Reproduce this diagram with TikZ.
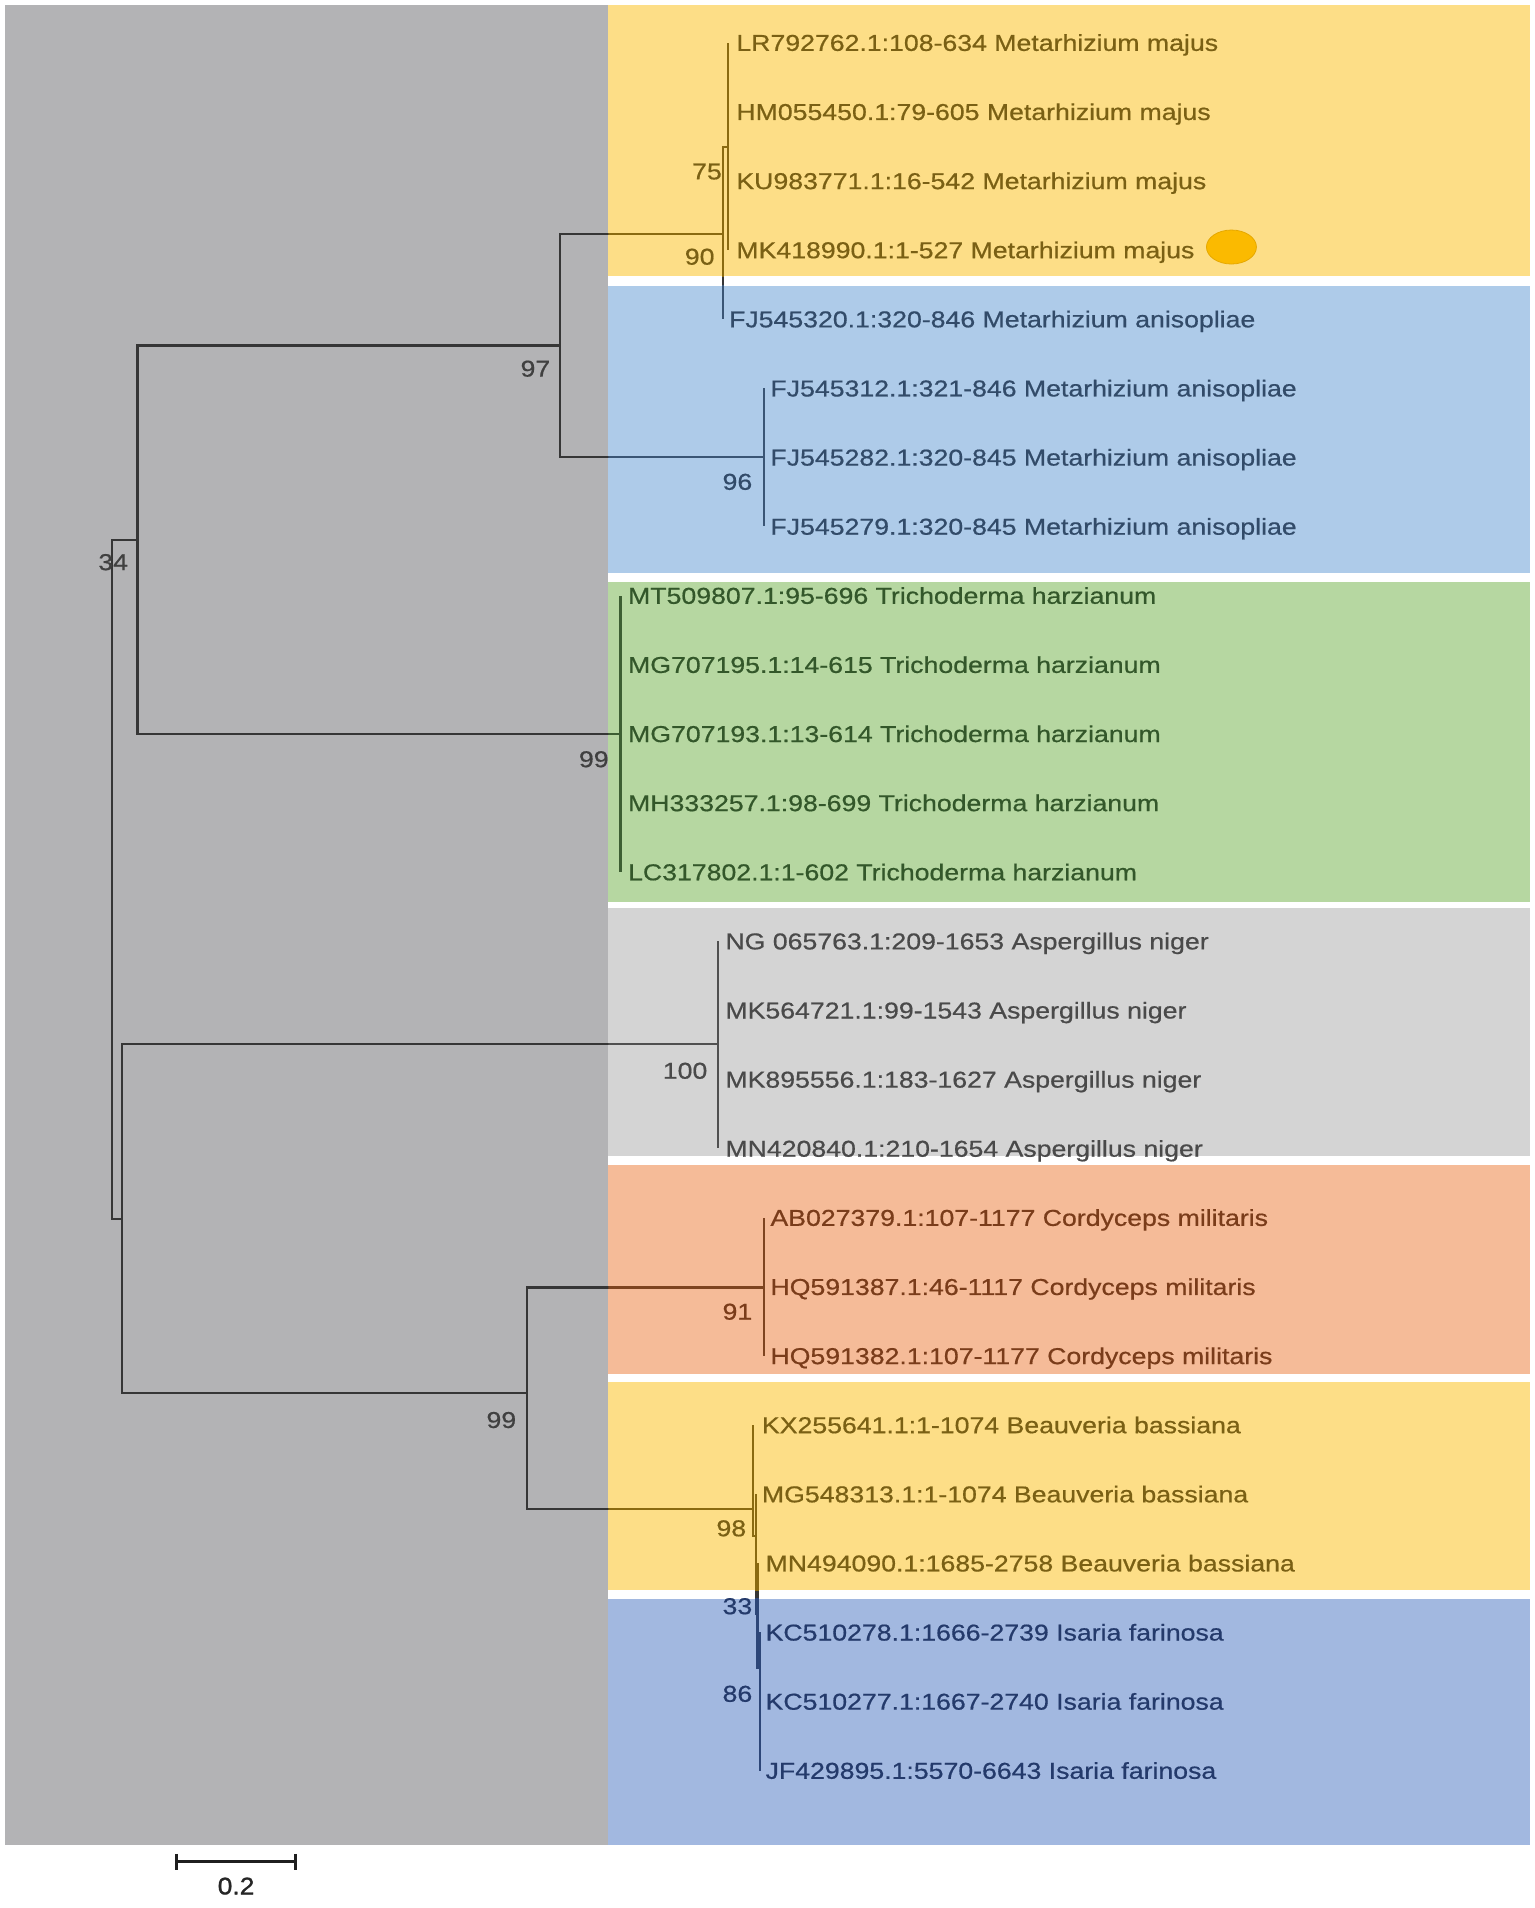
\documentclass[tikz,border=0pt]{standalone}
\usepackage{fontspec}
\usetikzlibrary{shapes.geometric}
\newfontfamily\labfont[FakeStretch=1.16,FakeBold=0.6]{Liberation Sans}
\newfontfamily\barfont[FakeStretch=1.1,FakeBold=1.2]{Liberation Sans}
\definecolor{pgray}{HTML}{B3B3B5}
\definecolor{pyel}{HTML}{FDDE87}
\definecolor{pblu}{HTML}{AECBE9}
\definecolor{pgrn}{HTML}{B6D7A1}
\definecolor{plgr}{HTML}{D4D4D4}
\definecolor{pora}{HTML}{F5BB98}
\definecolor{pbl2}{HTML}{A2B8E0}
\definecolor{tyel}{HTML}{7A6014}
\definecolor{tblu}{HTML}{324B69}
\definecolor{tgrn}{HTML}{33572A}
\definecolor{tlgr}{HTML}{4A4A4A}
\definecolor{tora}{HTML}{7A3C1A}
\definecolor{tbl2}{HTML}{243A6B}
\definecolor{tdark}{HTML}{404040}
\definecolor{lnyel}{HTML}{8A6A10}
\definecolor{lnblu}{HTML}{3A5575}
\definecolor{lngrn}{HTML}{3D5E33}
\definecolor{lnlgr}{HTML}{505050}
\definecolor{lnora}{HTML}{7E4420}
\definecolor{lnbl2}{HTML}{2D4678}
\definecolor{lndark}{HTML}{363636}
\definecolor{dotc}{HTML}{FBBA00}
\definecolor{dotb}{HTML}{E6A800}
\newcommand\treelines{%
  \draw (root) |- (nA); \draw (root) |- (nB);
  \draw (nA) |- (nMeta); \draw (nA) |- (nTri);
  \draw (nMeta) |- (n90); \draw (nMeta) |- (nAni);
  \draw (n90) |- (n75); \draw (n90) |- (l5);
  \foreach \i in {1,...,4} {\draw (n75) |- (l\i);}
  \foreach \i in {6,7,8} {\draw (nAni) |- (l\i);}
  \foreach \i in {9,...,13} {\draw (nTri) |- (l\i);}
  \draw (nB) |- (nAsp); \draw (nB) |- (nC);
  \foreach \i in {14,...,17} {\draw (nAsp) |- (l\i);}
  \draw (nC) |- (nCor); \draw (nC) |- (n98);
  \foreach \i in {18,19,20} {\draw (nCor) |- (l\i);}
  \draw (n98) |- (l21); \draw (n98) |- (nX);
  \draw (nX) |- (l22); \draw (nX) |- (n33);
  \draw[boldseg] (n33) |- (l23); \draw[boldseg] (n33) |- (n86);
  \foreach \i in {24,25,26} {\draw (n86) |- (l\i);}
}
\begin{document}
\begin{tikzpicture}[x=1.2173pt,y=-1.2173pt,
  leaf/.style={anchor=base west, inner sep=0pt, font=\labfont\fontsize{23}{26}\selectfont},
  boot/.style={anchor=center, inner sep=0pt, font=\labfont\fontsize{23}{26}\selectfont},
  boldseg/.style={line width=3pt},
  treeline/.style={line width=2.2pt}]
\fill[white] (0,0) rectangle (1261,1568);
\useasboundingbox (0,0) rectangle (1261,1568);
% panels
\fill[pgray] (4,4) rectangle (500,1516);
\fill[pyel] (500,4) rectangle (1257,227);
\fill[pblu] (500,235) rectangle (1257,470.5);
\fill[pgrn] (500,478) rectangle (1257,741);
\fill[plgr] (500,746) rectangle (1257,950);
\fill[pora] (500,957) rectangle (1257,1129);
\fill[pyel] (500,1136) rectangle (1257,1307);
\fill[pbl2] (500,1314) rectangle (1257,1516);
% tree coordinates
\coordinate (root) at (92,722);
\coordinate (nA) at (113,443.5);
\coordinate (nB) at (100,1002);
\coordinate (nMeta) at (460,284);
\coordinate (nTri) at (510,603);
\coordinate (n90) at (594,192);
\coordinate (n75) at (598,121);
\coordinate (nAni) at (628,375.8);
\coordinate (nAsp) at (590,858);
\coordinate (nC) at (433,1145);
\coordinate (nCor) at (628,1058);
\coordinate (n98) at (619,1240);
\coordinate (nX) at (621,1262);
\coordinate (n33) at (622.5,1326);
\coordinate (n86) at (624.5,1370);
\coordinate (l1) at (598,35);
\coordinate (l2) at (598,91.8);
\coordinate (l3) at (598,148.6);
\coordinate (l4) at (598,205.4);
\coordinate (l5) at (594,262.2);
\coordinate (l6) at (628,319);
\coordinate (l7) at (628,375.8);
\coordinate (l8) at (628,432.6);
\coordinate (l9) at (510,489.4);
\coordinate (l10) at (510,546.2);
\coordinate (l11) at (510,603);
\coordinate (l12) at (510,659.8);
\coordinate (l13) at (510,716.6);
\coordinate (l14) at (590,773.4);
\coordinate (l15) at (590,830.2);
\coordinate (l16) at (590,887);
\coordinate (l17) at (590,943.8);
\coordinate (l18) at (628,1000.6);
\coordinate (l19) at (628,1057.4);
\coordinate (l20) at (628,1114.2);
\coordinate (l21) at (619,1171);
\coordinate (l22) at (621,1227.8);
\coordinate (l23) at (622.5,1284.6);
\coordinate (l24) at (624.5,1341.4);
\coordinate (l25) at (624.5,1398.2);
\coordinate (l26) at (624.5,1455);
% tree lines: base dark, then tinted per panel
\begin{scope}[treeline, color=lndark]
  \treelines
\end{scope}
\foreach \ya/\yb/\lc in {4/227/lnyel, 235/470.5/lnblu, 478/741/lngrn, 746/950/lnlgr, 957/1129/lnora, 1136/1307/lnyel, 1314/1516/lnbl2} {
  \begin{scope}
    \clip (500,\ya) rectangle (1257,\yb);
    \begin{scope}[treeline, color=\lc]
      \treelines
    \end{scope}
  \end{scope}
}
% leaf labels
\node[leaf, text=tyel] (t1) at (605,41.8) {LR792762.1:108-634 Metarhizium majus};
\node[leaf, text=tyel] (t2) at (605,98.6) {HM055450.1:79-605 Metarhizium majus};
\node[leaf, text=tyel] (t3) at (605,155.4) {KU983771.1:16-542 Metarhizium majus};
\node[leaf, text=tyel] (t4) at (605,212.2) {MK418990.1:1-527 Metarhizium majus};
\node[leaf, text=tblu] (t5) at (599,269) {FJ545320.1:320-846 Metarhizium anisopliae};
\node[leaf, text=tblu] (t6) at (633,325.8) {FJ545312.1:321-846 Metarhizium anisopliae};
\node[leaf, text=tblu] (t7) at (633,382.6) {FJ545282.1:320-845 Metarhizium anisopliae};
\node[leaf, text=tblu] (t8) at (633,439.4) {FJ545279.1:320-845 Metarhizium anisopliae};
\node[leaf, text=tgrn] (t9) at (516,496.2) {MT509807.1:95-696 Trichoderma harzianum};
\node[leaf, text=tgrn] (t10) at (516,553) {MG707195.1:14-615 Trichoderma harzianum};
\node[leaf, text=tgrn] (t11) at (516,609.8) {MG707193.1:13-614 Trichoderma harzianum};
\node[leaf, text=tgrn] (t12) at (516,666.6) {MH333257.1:98-699 Trichoderma harzianum};
\node[leaf, text=tgrn] (t13) at (516,723.4) {LC317802.1:1-602 Trichoderma harzianum};
\node[leaf, text=tlgr] (t14) at (596,780.2) {NG 065763.1:209-1653 Aspergillus niger};
\node[leaf, text=tlgr] (t15) at (596,837) {MK564721.1:99-1543 Aspergillus niger};
\node[leaf, text=tlgr] (t16) at (596,893.8) {MK895556.1:183-1627 Aspergillus niger};
\node[leaf, text=tlgr] (t17) at (596,950.6) {MN420840.1:210-1654 Aspergillus niger};
\node[leaf, text=tora] (t18) at (633,1007.4) {AB027379.1:107-1177 Cordyceps militaris};
\node[leaf, text=tora] (t19) at (633,1064.2) {HQ591387.1:46-1117 Cordyceps militaris};
\node[leaf, text=tora] (t20) at (633,1121) {HQ591382.1:107-1177 Cordyceps militaris};
\node[leaf, text=tyel] (t21) at (626,1177.8) {KX255641.1:1-1074 Beauveria bassiana};
\node[leaf, text=tyel] (t22) at (626,1234.6) {MG548313.1:1-1074 Beauveria bassiana};
\node[leaf, text=tyel] (t23) at (629,1291.4) {MN494090.1:1685-2758 Beauveria bassiana};
\node[leaf, text=tbl2] (t24) at (629,1348.2) {KC510278.1:1666-2739 Isaria farinosa};
\node[leaf, text=tbl2] (t25) at (629,1405) {KC510277.1:1667-2740 Isaria farinosa};
\node[leaf, text=tbl2] (t26) at (629,1461.8) {JF429895.1:5570-6643 Isaria farinosa};
% bootstrap values
\node[boot, text=tyel] (b75) at (581,141) {75};
\node[boot, text=tyel] (b90) at (575,211) {90};
\node[boot, text=tdark] (b97) at (440,303) {97};
\node[boot, text=tblu] (b96) at (606,396) {96};
\node[boot, text=tdark] (b34) at (93,462) {34};
\node[boot, text=tdark] (b99a) at (488,624) {99};
\node[boot, text=tlgr] (b100) at (563,880) {100};
\node[boot, text=tora] (b91) at (606,1078) {91};
\node[boot, text=tdark] (b99b) at (412,1167) {99};
\node[boot, text=tyel] (b98) at (601,1256) {98};
\node[boot, text=tbl2] (b33) at (606,1320) {33};
\node[boot, text=tbl2] (b86) at (606,1392) {86};
% marker dot
\node[ellipse, fill=dotc, draw=dotb, line width=0.8pt, minimum width=50pt, minimum height=34pt, inner sep=0pt] (dot) at (1012,203) {};
% scale bar
\coordinate (sbA) at (145,1530);
\coordinate (sbB) at (243,1530);
\draw[line width=3.2pt, color=black!88] (sbA) -- (sbB);
\draw[line width=3.2pt, color=black!88] ([yshift=8pt]sbA) -- ([yshift=-8pt]sbA);
\draw[line width=3.2pt, color=black!88] ([yshift=8pt]sbB) -- ([yshift=-8pt]sbB);
\node[anchor=center, inner sep=0pt, font=\barfont\fontsize{24}{26}\selectfont, text=black!85] (sbl) at (194,1550) {0.2};
\end{tikzpicture}
\end{document}
